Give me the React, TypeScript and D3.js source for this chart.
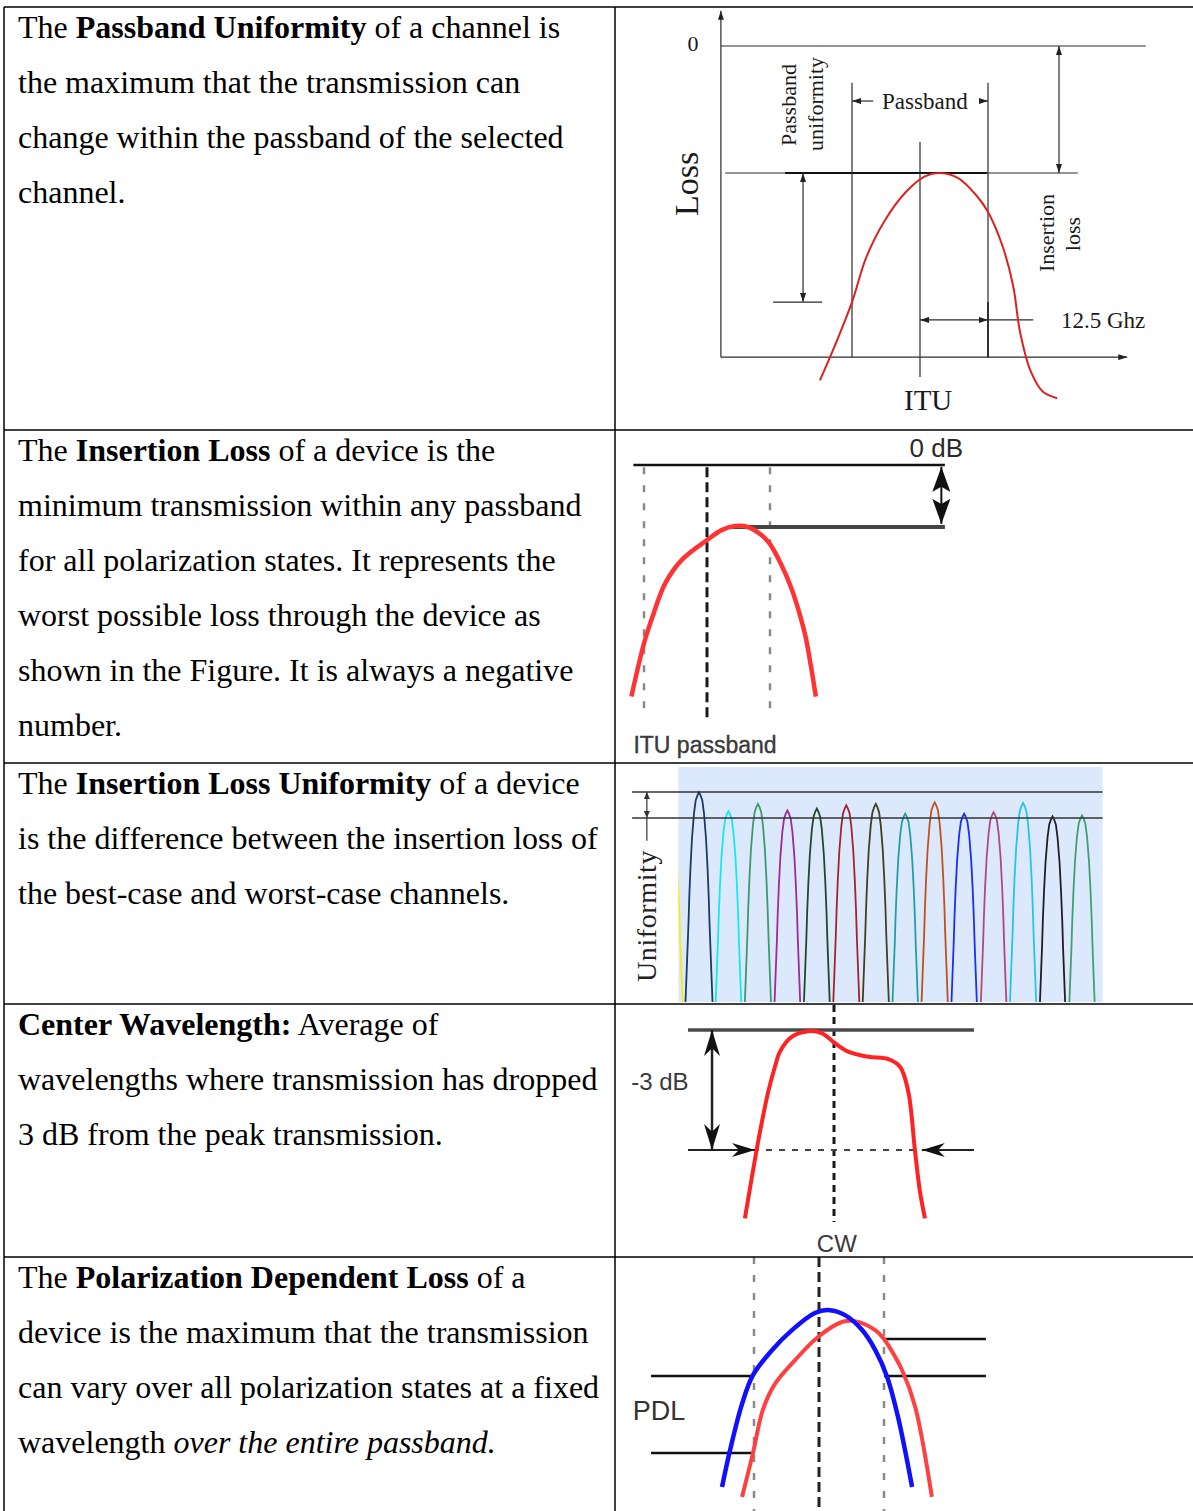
import React, { useEffect } from "react";
import * as d3 from "d3";

const W = 1193;
const H = 1511;
const SERIF = "'Liberation Serif', 'Times New Roman', Times, serif";
const SANS = "'Liberation Sans', Arial, Helvetica, sans-serif";

// ---- table frame ----
const colX = 615;
const rowTops = [7, 430, 763, 1004, 1257];

// ---- left column text (runs: b = bold, i = italic) ----
type Run = { t: string; b?: boolean; i?: boolean };
const rowText: Run[][][] = [
  [
    [{ t: "The " }, { t: "Passband Uniformity", b: true }, { t: " of a channel is" }],
    [{ t: "the maximum that the transmission can" }],
    [{ t: "change within the passband of the selected" }],
    [{ t: "channel." }],
  ],
  [
    [{ t: "The " }, { t: "Insertion Loss", b: true }, { t: " of a device is the" }],
    [{ t: "minimum transmission within any passband" }],
    [{ t: "for all polarization states. It represents the" }],
    [{ t: "worst possible loss through the device as" }],
    [{ t: "shown in the Figure. It is always a negative" }],
    [{ t: "number." }],
  ],
  [
    [{ t: "The " }, { t: "Insertion Loss Uniformity", b: true }, { t: " of a device" }],
    [{ t: "is the difference between the insertion loss of" }],
    [{ t: "the best-case and worst-case channels." }],
  ],
  [
    [{ t: "Center Wavelength:", b: true }, { t: " Average of" }],
    [{ t: "wavelengths where transmission has dropped" }],
    [{ t: "3 dB from the peak transmission." }],
  ],
  [
    [{ t: "The " }, { t: "Polarization Dependent Loss", b: true }, { t: " of a" }],
    [{ t: "device is the maximum that the transmission" }],
    [{ t: "can vary over all polarization states at a fixed" }],
    [{ t: "wavelength " }, { t: "over the entire passband.", i: true }],
  ],
];

// ---- panel 1: passband uniformity (x: GHz from ITU, y: loss dB) ----
const pbCurve: [number, number][] = [
  [-18.4, 7.9], [-15.4, 7.0], [-12.5, 6.05], [-9.9, 5.0], [-6.6, 4.15], [-2.6, 3.45],
  [0.9, 3.08], [3.5, 3.0], [7.0, 3.12], [10.3, 3.52], [12.5, 3.92], [15.1, 4.7],
  [17.1, 5.65], [18.4, 6.76], [20.4, 7.7], [22.6, 8.17], [25.2, 8.32],
];
const pbEdges = [-12.5, 12.5];
const pbInsertion = 3.0;
const pbWorst = 6.05;
const pbAxisX = [-36.6, 38.1];
const pbAxisY = [-0.83, 7.35];

// ---- panel 2: insertion loss (x: GHz, y: dB) ----
const ilCurve: [number, number][] = [
  [-15.0, 7.47], [-12.5, 5.75], [-10.8, 4.89], [-8.3, 3.82], [-5.0, 3.06], [0, 2.42],
  [2.9, 2.1], [5.5, 1.97], [8.1, 2.0], [10.8, 2.26], [12.4, 2.53], [14.7, 3.2],
  [16.7, 3.96], [18.6, 4.93], [19.6, 5.57], [21.6, 7.47],
];
const ilGrid = [-12.5, 0, 12.5];
const ilLoss = 2.0;
const ilSpan = [-14.6, 47.2];

// ---- panel 3: insertion loss uniformity (x: channel, y: dB) ----
const chPeaks = [-3.01, -3.59, -3.37, -3.57, -3.51, -3.41, -3.37, -3.67, -3.32, -3.67, -3.62, -3.34, -3.75, -3.72];
const chColors = [
  "#1c3a66", "#12e8f6", "#3c9a6c", "#a0289c", "#1e4a2a", "#a0242a", "#40401a",
  "#21a0a4", "#c0501e", "#1830f0", "#b04a7a", "#22c4f0", "#1e1e24", "#3fa070",
];
const edgeChannel = { ch: -1, peak: -3.4, color: "#f2ee10" };
// half width (channels) vs depth below peak (dB)
const chProfile: [number, number][] = [
  [0, 0], [0.051, 0.09], [0.112, 0.25], [0.17, 0.65], [0.238, 1.42], [0.289, 2.31],
  [0.33, 3.23], [0.357, 4.03], [0.408, 5.26], [0.459, 6.46], [0.493, 7.38],
];
const ilBest = -3.0;
const ilWorst = -3.8;

// ---- panel 4: center wavelength (x: GHz from CW, y: dB) ----
const cwCurve: [number, number][] = [
  [-28.2, -4.71], [-24.5, -3.0], [-22.4, -2.13], [-20.8, -1.54], [-18.7, -0.92],
  [-17.1, -0.54], [-13.4, -0.17], [-8.1, -0.03], [-3.9, -0.08], [0.3, -0.33],
  [4.5, -0.54], [10.9, -0.67], [17.2, -0.73], [20.9, -0.92], [23.5, -1.54],
  [25.6, -3.0], [27.2, -4.04], [28.8, -4.71],
];
const cwSpan = [-46.2, 44.3];
const cwDrop = -3;

// ---- panel 5: PDL (x: GHz, y: dB) ----
const pdlBlue: [number, number][] = [
  [-18.65, -5.9], [-17.1, -4.67], [-14.8, -3.13], [-12.7, -2.17], [-9.0, -1.33],
  [-5.2, -0.67], [-0.8, -0.1], [1.7, 0], [5.0, -0.17], [8.3, -0.67], [10.8, -1.33],
  [13.1, -2.23], [15.2, -3.57], [17.9, -5.9],
];
const pdlRed: [number, number][] = [
  [-14.8, -6.23], [-12.7, -4.77], [-10.8, -3.33], [-8.5, -2.47], [-4.6, -1.67],
  [-0.2, -0.9], [4.4, -0.4], [6.9, -0.37], [10.8, -0.67], [12.5, -0.97],
  [13.3, -1.17], [15.96, -2.0], [18.5, -3.23], [21.7, -6.23],
];
const pdlGrid = [-12.5, 0, 12.5];
const pdlRight = [-0.97, -2.2];
const pdlLeft = [-2.2, -4.77];

type Pt = [number, number];
const smooth = (x: d3.ScaleLinear<number, number>, y: d3.ScaleLinear<number, number>) =>
  d3.line<Pt>().x((d) => x(d[0])).y((d) => y(d[1])).curve(d3.curveCatmullRom.alpha(0.5));

const Marker = ({ id, len, wid, color, barb = 0 }) => (
  <marker id={id} viewBox="0 0 10 10" refX={10} refY={5} markerWidth={len} markerHeight={wid}
    markerUnits="userSpaceOnUse" orient="auto-start-reverse" preserveAspectRatio="none">
    <path d={`M0,0 L10,5 L0,10 L${barb},5 z`} fill={color} />
  </marker>
);

function PassbandPanel() {
  const x = d3.scaleLinear().domain([-12.5, 12.5]).range([852, 988]);
  const y = d3.scaleLinear().domain([0, 3]).range([46, 173]);
  const ink = "#2a2a2a";
  const [e0, e1] = pbEdges;
  return (
    <g fontFamily={SERIF} fill="#1a1a1a">
      <line x1={x(pbAxisX[0])} x2={x(pbAxisX[0])} y1={y(pbAxisY[1])} y2={y(pbAxisY[0])} stroke={ink} strokeWidth={1.2} markerEnd="url(#a1)" />
      <line x1={x(pbAxisX[0])} x2={x(pbAxisX[1])} y1={y(pbAxisY[1])} y2={y(pbAxisY[1])} stroke={ink} strokeWidth={1.2} markerEnd="url(#a1)" />
      <text x={x(pbAxisX[0]) - 28} y={y(0) + 5} fontSize={22} textAnchor="middle">0</text>
      <line x1={x(pbAxisX[0])} x2={x(41.5)} y1={y(0)} y2={y(0)} stroke={ink} strokeWidth={1.2} />
      <line x1={x(-35.8)} x2={x(29)} y1={y(pbInsertion)} y2={y(pbInsertion)} stroke={ink} strokeWidth={1.2} />
      <line x1={x(-24.8)} x2={x(12.3)} y1={y(pbInsertion)} y2={y(pbInsertion)} stroke="#111" strokeWidth={2.2} />
      {pbEdges.map((e) => (
        <line key={e} x1={x(e)} x2={x(e)} y1={y(0.87)} y2={y(pbAxisY[1])} stroke={ink} strokeWidth={1.2} />
      ))}
      <line x1={x(e1)} x2={x(e1)} y1={y(pbWorst)} y2={y(pbAxisY[1])} stroke={ink} strokeWidth={1.8} />
      <line x1={x(0)} x2={x(0)} y1={y(2.27)} y2={y(7.82)} stroke={ink} strokeWidth={1.2} />
      {/* passband arrows */}
      <line x1={x(-8.6)} x2={x(e0)} y1={y(1.3)} y2={y(1.3)} stroke={ink} strokeWidth={1.2} markerEnd="url(#a1)" />
      <line x1={x(10.9)} x2={x(e1)} y1={y(1.3)} y2={y(1.3)} stroke={ink} strokeWidth={1.2} markerEnd="url(#a1)" />
      <text x={x(0.9)} y={y(1.3) + 8} fontSize={23} textAnchor="middle">Passband</text>
      {/* passband uniformity */}
      <line x1={x(-21.5)} x2={x(-21.5)} y1={y(pbInsertion)} y2={y(pbWorst)} stroke={ink} strokeWidth={1.2} markerStart="url(#a1)" markerEnd="url(#a1)" />
      <line x1={x(-27)} x2={x(-18)} y1={y(pbWorst)} y2={y(pbWorst)} stroke={ink} strokeWidth={1.2} />
      <text transform={`translate(796,105) rotate(-90)`} fontSize={22} textAnchor="middle">Passband</text>
      <text transform={`translate(823,104) rotate(-90)`} fontSize={22} textAnchor="middle">uniformity</text>
      {/* insertion loss */}
      <line x1={x(25.55)} x2={x(25.55)} y1={y(0)} y2={y(pbInsertion)} stroke={ink} strokeWidth={1.2} markerStart="url(#a1)" markerEnd="url(#a1)" />
      <text transform={`translate(1054,233) rotate(-90)`} fontSize={22} textAnchor="middle">Insertion</text>
      <text transform={`translate(1080,234) rotate(-90)`} fontSize={22} textAnchor="middle">loss</text>
      {/* 12.5 GHz */}
      <line x1={x(0)} x2={x(e1)} y1={y(6.47)} y2={y(6.47)} stroke={ink} strokeWidth={1.2} markerStart="url(#a1)" markerEnd="url(#a1)" />
      <line x1={x(e1)} x2={x(20.8)} y1={y(6.47)} y2={y(6.47)} stroke={ink} strokeWidth={1.2} />
      <text x={x(25.9)} y={y(6.47) + 8} fontSize={23}>12.5 Ghz</text>
      <text transform={`translate(698,184) rotate(-90)`} fontSize={34} textAnchor="middle">Loss</text>
      <text x={x(1.5)} y={y(pbAxisY[1]) + 53} fontSize={29} textAnchor="middle">ITU</text>
      <path d={smooth(x, y)(pbCurve) || ""} fill="none" stroke="#dd2020" strokeWidth={2} />
    </g>
  );
}

function InsertionPanel() {
  const x = d3.scaleLinear().domain([0, 12.5]).range([707, 770]);
  const y = d3.scaleLinear().domain([0, ilLoss]).range([465, 527]);
  return (
    <g fontFamily={SANS}>
      {ilGrid.map((g) => (
        <line key={g} x1={x(g)} x2={x(g)} y1={y(0.07)} y2={y(g === 0 ? 8.16 : 8.06)}
          stroke={g === 0 ? "#1a1a1a" : "#8a8a8a"} strokeWidth={g === 0 ? 3 : 2.5}
          strokeDasharray={g === 0 ? "10 5" : "7 11"} />
      ))}
      <line x1={x(ilSpan[0])} x2={x(ilSpan[1])} y1={y(0)} y2={y(0)} stroke="#111" strokeWidth={2.5} />
      <line x1={x(5.1)} x2={x(ilSpan[1])} y1={y(ilLoss)} y2={y(ilLoss)} stroke="#444" strokeWidth={4} />
      <line x1={x(46.5)} x2={x(46.5)} y1={y(0.06)} y2={y(1.9)} stroke="#111" strokeWidth={2} markerStart="url(#a2)" markerEnd="url(#a2)" />
      <path d={smooth(x, y)(ilCurve) || ""} fill="none" stroke="#ff3333" strokeWidth={4.5} />
      <text x={x(50.8)} y={y(-0.27)} fontSize={26} textAnchor="end" fill="#2a2a2a">0 dB</text>
      <text x={x(ilSpan[0])} y={y(9.3)} fontSize={23} fill="#3a3a3a" stroke="#3a3a3a" strokeWidth={0.4}>ITU passband</text>
    </g>
  );
}

function UniformityPanel() {
  const x = d3.scaleLinear().domain([0, 13]).range([699, 1082]);
  const y = d3.scaleLinear().domain([ilBest, ilWorst]).range([792, 818]);
  const lin = d3.line<Pt>().x((d) => x(d[0])).y((d) => y(d[1]));
  const trace = (ch: number, peak: number): Pt[] => [
    ...chProfile.slice().reverse().map(([w, dep]) => [ch - w, peak - dep] as Pt),
    ...chProfile.slice(1).map(([w, dep]) => [ch + w, peak - dep] as Pt),
  ];
  const bx0 = x(-0.7), bx1 = x(13.7), by0 = y(-2.23), by1 = y(-9.46);
  return (
    <g>
      <defs>
        <clipPath id="ch-clip">
          <rect x={bx0} y={by0} width={bx1 - bx0} height={by1 - by0} />
        </clipPath>
      </defs>
      <rect x={bx0} y={by0} width={bx1 - bx0} height={by1 - by0} fill="#dce8fb" />
      <g clipPath="url(#ch-clip)" fill="none" strokeWidth={1.8}>
        <path d={lin(trace(edgeChannel.ch, edgeChannel.peak)) || ""} stroke={edgeChannel.color} />
        {chPeaks.map((p, i) => (
          <path key={i} d={lin(trace(i, p)) || ""} stroke={chColors[i]} />
        ))}
      </g>
      {[ilBest, ilWorst].map((v) => (
        <line key={v} x1={x(-2.27)} x2={bx1} y1={y(v)} y2={y(v)} stroke="#333" strokeWidth={1.5} />
      ))}
      <line x1={x(-1.77)} x2={x(-1.77)} y1={y(ilBest)} y2={y(ilWorst)} stroke="#333" strokeWidth={1.2} markerStart="url(#a3)" markerEnd="url(#a3)" />
      <line x1={x(-1.77)} x2={x(-1.77)} y1={y(ilWorst)} y2={y(-4.5)} stroke="#333" strokeWidth={1.2} />
      <text transform={`translate(656,916) rotate(-90)`} fontFamily={SERIF} fontSize={28} letterSpacing={0.6} textAnchor="middle" fill="#222">Uniformity</text>
    </g>
  );
}

function CenterPanel() {
  const x = d3.scaleLinear().domain([-25, 25]).range([755, 913]);
  const y = d3.scaleLinear().domain([0, cwDrop]).range([1030, 1150]);
  return (
    <g fontFamily={SANS}>
      <line x1={x(0)} x2={x(0)} y1={y(0.625)} y2={y(-4.8)} stroke="#1a1a1a" strokeWidth={3} strokeDasharray="7 5" />
      <line x1={x(cwSpan[0])} x2={x(cwSpan[1])} y1={y(cwDrop)} y2={y(cwDrop)} stroke="#444" strokeWidth={2} strokeDasharray="6 7" />
      <line x1={x(cwSpan[0])} x2={x(cwSpan[1])} y1={y(0)} y2={y(0)} stroke="#4a4a4a" strokeWidth={3.5} />
      <line x1={x(cwSpan[0])} x2={x(-25.0)} y1={y(cwDrop)} y2={y(cwDrop)} stroke="#222" strokeWidth={2} markerEnd="url(#a4)" />
      <line x1={x(cwSpan[1])} x2={x(27.8)} y1={y(cwDrop)} y2={y(cwDrop)} stroke="#222" strokeWidth={2} markerEnd="url(#a4)" />
      <line x1={x(-38.6)} x2={x(-38.6)} y1={y(0)} y2={y(cwDrop)} stroke="#222" strokeWidth={2.5} markerStart="url(#a5)" markerEnd="url(#a5)" />
      <path d={smooth(x, y)(cwCurve) || ""} fill="none" stroke="#ff2222" strokeWidth={4} />
      <text x={x(-55.1)} y={y(-1.5)} fontSize={24} textAnchor="middle" fill="#3a3a3a">-3 dB</text>
      <text x={x(0.9)} y={y(-5.56)} fontSize={24} textAnchor="middle" fill="#3a3a3a">CW</text>
    </g>
  );
}

function PdlPanel() {
  const x = d3.scaleLinear().domain([-12.5, 12.5]).range([754, 884]);
  const y = d3.scaleLinear().domain([0, -1]).range([1310, 1340]);
  const path = smooth(x, y);
  return (
    <g fontFamily={SANS}>
      {pdlGrid.map((g) => (
        <line key={g} x1={x(g)} x2={x(g)} y1={y(1.77)} y2={y(-6.7)}
          stroke={g === 0 ? "#222" : "#8a8a8a"} strokeWidth={g === 0 ? 3 : 2.5}
          strokeDasharray={g === 0 ? "10 5" : "7 11"} />
      ))}
      {pdlRight.map((v) => (
        <line key={`r${v}`} x1={x(12.5)} x2={x(32.1)} y1={y(v)} y2={y(v)} stroke="#111" strokeWidth={2.5} />
      ))}
      {pdlLeft.map((v) => (
        <line key={`l${v}`} x1={x(-32.3)} x2={x(-12.5)} y1={y(v)} y2={y(v)} stroke="#111" strokeWidth={2.5} />
      ))}
      <path d={path(pdlRed) || ""} fill="none" stroke="#ff4040" strokeWidth={4} />
      <path d={path(pdlBlue) || ""} fill="none" stroke="#1010ff" strokeWidth={4.5} />
      <text x={x(-35.8)} y={y(-3.65)} fontSize={27} fill="#333">PDL</text>
    </g>
  );
}

export default function App() {
  useEffect(() => {
    document.body.style.margin = "0";
    document.body.style.overflow = "hidden";
  }, []);
  return (
    <svg width={W} height={H} style={{ position: "absolute", left: 0, top: 0, background: "#fff" }}>
      <defs>
        <Marker id="a1" len={9} wid={6} color="#222" />
        <Marker id="a2" len={25} wid={18} color="#111" barb={2} />
        <Marker id="a3" len={7} wid={6} color="#333" />
        <Marker id="a4" len={23} wid={14} color="#111" barb={3} />
        <Marker id="a5" len={26} wid={16} color="#111" barb={3} />
      </defs>
      <rect width={W} height={H} fill="#fff" />
      {rowText.map((lines, ri) =>
        lines.map((line, li) => (
          <text key={`${ri}-${li}`} x={18} y={rowTops[ri] + 30.5 + 55 * li} fontFamily={SERIF}
            fontSize={32} fill="#000" style={{ whiteSpace: "pre" }}>
            {line.map((r, k) => (
              <tspan key={k} fontWeight={r.b ? "bold" : "normal"} fontStyle={r.i ? "italic" : "normal"}>{r.t}</tspan>
            ))}
          </text>
        ))
      )}
      <PassbandPanel />
      <InsertionPanel />
      <UniformityPanel />
      <CenterPanel />
      <PdlPanel />
      {/* table frame */}
      <g stroke="#000" strokeWidth={1.5}>
        <line x1={4} x2={W} y1={rowTops[0]} y2={rowTops[0]} />
        {rowTops.slice(1).map((t) => (
          <line key={t} x1={4} x2={W} y1={t} y2={t} />
        ))}
        <line x1={4} x2={4} y1={rowTops[0]} y2={H} />
        <line x1={colX} x2={colX} y1={rowTops[0]} y2={H} />
      </g>
    </svg>
  );
}
